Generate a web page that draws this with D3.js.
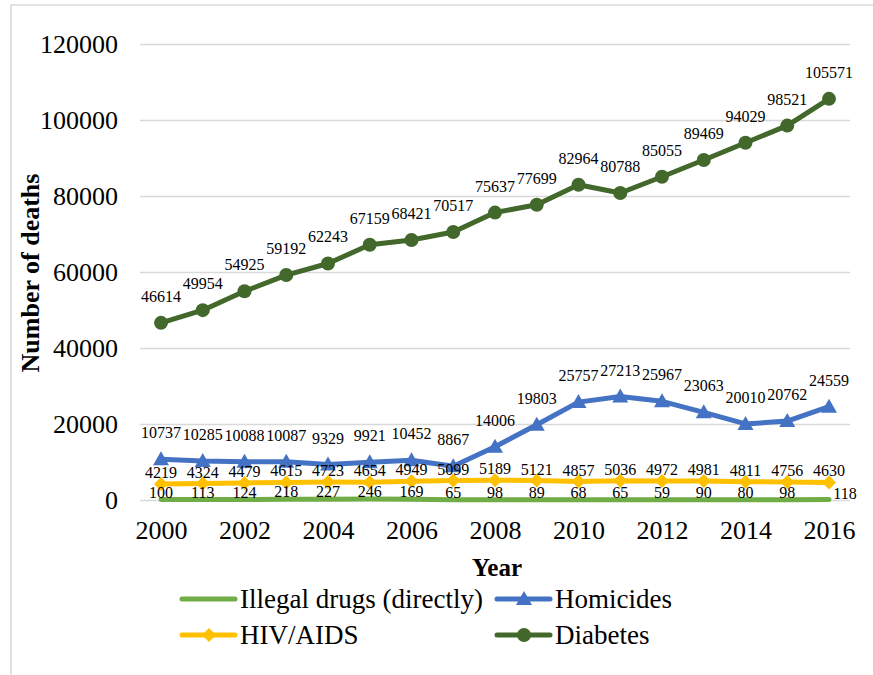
<!DOCTYPE html>
<html>
<head>
<meta charset="utf-8">
<script src="https://cdn.jsdelivr.net/npm/d3@7"></script>
<style>
  body { margin: 0; background: #fff; }
  svg { display: block; }
  svg text { font-family: "Liberation Serif", "Times New Roman", serif; fill: #000; }
  .grid line { stroke: #d9d9d9; stroke-width: 1.5; }
  .grid path { display: none; }
</style>
</head>
<body>
<svg width="873" height="675"></svg>
<script>
const years = [2000, 2001, 2002, 2003, 2004, 2005, 2006, 2007, 2008,
               2009, 2010, 2011, 2012, 2013, 2014, 2015, 2016];
const yTicks = [0, 20000, 40000, 60000, 80000, 100000, 120000];
const xTicks = [2000, 2002, 2004, 2006, 2008, 2010, 2012, 2014, 2016];

const illegalDrugs = [100, 113, 124, 218, 227, 246, 169, 65, 98, 89, 68, 65, 59, 90, 80, 98, 118];
const hivAids = [4219, 4324, 4479, 4615, 4723, 4654, 4949, 5099, 5189, 5121, 4857, 5036, 4972, 4981, 4811, 4756, 4630];
const homicides = [10737, 10285, 10088, 10087, 9329, 9921, 10452, 8867, 14006, 19803, 25757, 27213, 25967, 23063, 20010, 20762, 24559];
const diabetes = [46614, 49954, 54925, 59192, 62243, 67159, 68421, 70517, 75637, 77699, 82964, 80788, 85055, 89469, 94029, 98521, 105571];

const seriesNames = ['Illegal drugs (directly)', 'Homicides', 'HIV/AIDS', 'Diabetes'];

// drawing order: bottom series first so labels of upper ones sit on top
const series = [
  { name: seriesNames[0], values: illegalDrugs, color: '#70ad47', marker: null, labelDy: -8 },
  { name: seriesNames[2], values: hivAids, color: '#ffc000', marker: 'diamond', labelDy: -12 },
  { name: seriesNames[1], values: homicides, color: '#4472c4', marker: 'triangle', labelDy: -27 },
  { name: seriesNames[3], values: diabetes, color: '#43682b', marker: 'circle', labelDy: -27 }
];

const FONT = '"Liberation Serif", "Times New Roman", serif';
const svg = d3.select('svg');

// outer chart border
svg.append('rect')
  .attr('x', 11).attr('y', 5)
  .attr('width', 900).attr('height', 700)
  .attr('fill', 'none')
  .attr('stroke', '#d9d9d9')
  .attr('stroke-width', 1.5);

const plotLeft = 140, plotRight = 850, plotTop = 44, plotBottom = 500;

const x = d3.scalePoint()
  .domain(years)
  .range([161, 829]);

const y = d3.scaleLinear()
  .domain([0, 120000])
  .range([plotBottom, plotTop]);

// horizontal gridlines + y labels
const yAxis = svg.append('g')
  .attr('class', 'grid')
  .attr('transform', `translate(${plotLeft}, 0)`)
  .call(d3.axisLeft(y)
    .tickValues(yTicks)
    .tickSize(-(plotRight - plotLeft))
    .tickPadding(22)
    .tickFormat(d3.format('d')));
yAxis.attr('font-family', FONT);
yAxis.selectAll('text')
  .attr('fill', '#000')
  .style('font-size', '26px')
  .style('font-family', FONT);

// x labels
const xAxis = svg.append('g')
  .attr('transform', `translate(0, ${plotBottom})`)
  .call(d3.axisBottom(x).tickValues(xTicks).tickSize(0).tickFormat(d3.format('d')));
xAxis.attr('font-family', FONT);
xAxis.select('.domain').remove();
xAxis.selectAll('text')
  .attr('y', 39)
  .attr('dy', 0)
  .attr('fill', '#000')
  .style('font-size', '26px')
  .style('font-family', FONT);

const line = d3.line()
  .x((d, i) => x(years[i]))
  .y(d => y(d));

function drawMarker(g, type, color, cx, cy) {
  if (type === 'circle') {
    g.append('circle').attr('cx', cx).attr('cy', cy).attr('r', 7).attr('fill', color);
  } else if (type === 'triangle') {
    g.append('path')
      .attr('d', `M${cx},${cy - 8}L${cx + 8},${cy + 6}L${cx - 8},${cy + 6}Z`)
      .attr('fill', color);
  } else if (type === 'diamond') {
    g.append('path')
      .attr('d', `M${cx},${cy - 7}L${cx + 7},${cy}L${cx},${cy + 7}L${cx - 7},${cy}Z`)
      .attr('fill', color);
  }
}

const plot = svg.append('g');

series.forEach(s => {
  plot.append('path')
    .datum(s.values)
    .attr('d', line)
    .attr('fill', 'none')
    .attr('stroke', s.color)
    .attr('stroke-width', 5)
    .attr('stroke-linejoin', 'round')
    .attr('stroke-linecap', 'round');
  if (s.marker) {
    s.values.forEach((v, i) => drawMarker(plot, s.marker, s.color, x(years[i]), y(v)));
  }
});

// data labels
series.forEach(s => {
  const last = s.values.length - 1;
  plot.append('g')
    .selectAll('text')
    .data(s.values)
    .join('text')
    .attr('x', (d, i) => (s.marker === null && i === last) ? x(years[i]) + 16 : x(years[i]))
    .attr('y', (d, i) => (s.marker === null && i === last) ? y(d) - 1 : y(d) + s.labelDy + 6)
    .attr('text-anchor', 'middle')
    .style('font-size', '16px')
    .style('font-family', FONT)
    .attr('fill', '#000')
    .text(d => d);
});

// axis titles
svg.append('text')
  .attr('transform', 'translate(39, 273) rotate(-90)')
  .attr('text-anchor', 'middle')
  .style('font-size', '26px')
  .style('font-weight', 'bold')
  .style('font-family', FONT)
  .text('Number of deaths');

svg.append('text')
  .attr('x', 497)
  .attr('y', 576)
  .attr('text-anchor', 'middle')
  .style('font-size', '25px')
  .style('font-weight', 'bold')
  .style('font-family', FONT)
  .text('Year');

// legend
const legendItems = [
  { name: seriesNames[0], color: '#70ad47', marker: null, lx: 182, ly: 599 },
  { name: seriesNames[1], color: '#4472c4', marker: 'triangle', lx: 497, ly: 599 },
  { name: seriesNames[2], color: '#ffc000', marker: 'diamond', lx: 182, ly: 635 },
  { name: seriesNames[3], color: '#43682b', marker: 'circle', lx: 497, ly: 635 }
];
const legend = svg.append('g');
legendItems.forEach(d => {
  legend.append('line')
    .attr('x1', d.lx).attr('x2', d.lx + 53)
    .attr('y1', d.ly).attr('y2', d.ly)
    .attr('stroke', d.color)
    .attr('stroke-width', 5)
    .attr('stroke-linecap', 'round');
  if (d.marker) drawMarker(legend, d.marker, d.color, d.lx + 27, d.ly);
  legend.append('text')
    .attr('x', d.lx + 58)
    .attr('y', d.ly + 9)
    .style('font-size', '27px')
    .style('font-family', FONT)
    .text(d.name);
});
</script>
</body>
</html>
